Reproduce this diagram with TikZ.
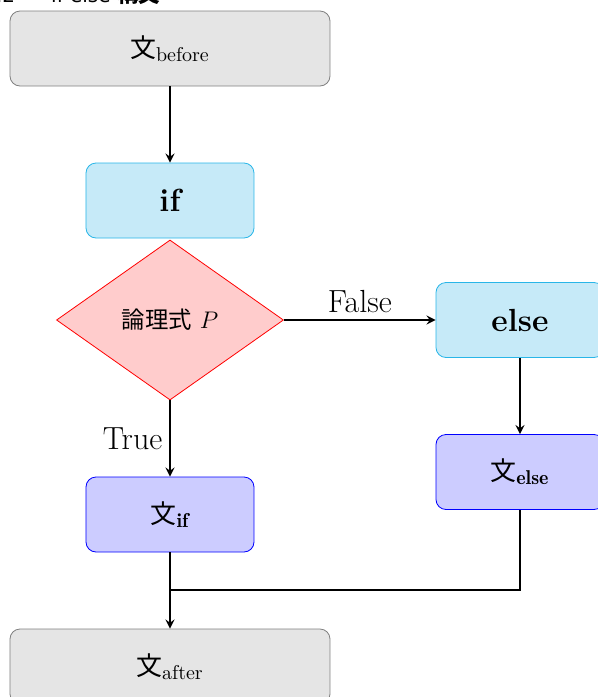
\documentclass[tikz,border=0pt]{standalone}
\usepackage{amsmath}
\usepackage{fontspec}
\newfontfamily\jp{Noto Sans CJK JP}[Scale=0.9]
\newfontfamily\capfont{DejaVu Sans}
\usepackage{tikz}
\usetikzlibrary{shapes.geometric, arrows}
\definecolor{kwfill}{RGB}{198,234,248}
\definecolor{kwdraw}{RGB}{41,182,232}
\newcommand{\biglabel}{\fontsize{16}{19}\selectfont}
\tikzstyle{stmt} = [rectangle, rounded corners=5pt, minimum width = 160pt, minimum height=37.5pt,text centered, draw = gray, fill = gray!20]
\tikzstyle{kw} = [rectangle, rounded corners=5pt, minimum width = 84pt, minimum height=37.5pt,text centered, draw = kwdraw, fill = kwfill]
\tikzstyle{body} = [rectangle, rounded corners=5pt, minimum width = 84pt, minimum height=37.5pt,text centered, draw = blue, fill = blue!20]
\tikzstyle{cond} = [diamond, minimum width = 113.5pt, minimum height=80pt, inner sep=0pt, text centered, draw = red, fill = red!20]
\tikzstyle{arrow} = [->,>=stealth, line width=1pt]

\begin{document}
\begin{tikzpicture}[node distance=76pt]
	\useasboundingbox (-85pt,24.25pt) rectangle (214pt,-324.25pt);
	%if else 的流程: 节点\node[样式](名称){标题};
	\node (cap) [anchor=base west, inner sep=0pt] at (-93.5pt,23.25pt) {\capfont 1.2\hspace{18pt}if else {\large\jp\bfseries 構文}};
	\node (before) [stmt] at (0,0) {\Large {\jp 文}$_{\mathrm{before}}$};
	\node (if) [kw, below of=before] {\biglabel\bfseries if};
	\node (P) [cond, below of=if, yshift=16.25pt] {\large {\fontsize{13}{15}\selectfont\jp 論理式} $P$};
	\node (else) [kw, right of=P, xshift=99pt] {\biglabel\bfseries else};
	\node (stmtelse) [body, below of=else] {\Large {\jp 文}$_{\mathbf{else}}$};
	\node (stmtif) [body, below of=P, yshift=-21.25pt] {\Large {\jp 文}$_{\mathbf{if}}$};
	\node (after) [stmt, below of=stmtif] {\Large {\jp 文}$_{\mathrm{after}}$};
	\coordinate (join) at ([yshift=-19pt]stmtif.south);
	\draw [arrow](before) -- (if);
	\draw [arrow](P) -- node[above] {\biglabel False} (else);
	\draw [arrow](else) -- (stmtelse);
	\draw [arrow](P) -- node[left] {\biglabel True} (stmtif);
	\draw [arrow](stmtif) -- (after);
	\draw [line width=1pt](stmtelse.south) |- (join);
\end{tikzpicture}
\end{document}
